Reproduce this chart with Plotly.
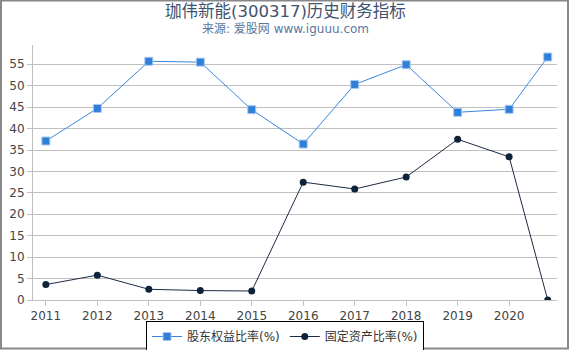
import plotly.graph_objects as go

years = [2011, 2012, 2013, 2014, 2015, 2016, 2017, 2018, 2019, 2020, 2020.75]
tick_vals = [2011, 2012, 2013, 2014, 2015, 2016, 2017, 2018, 2019, 2020]
tick_text = ["2011", "2012", "2013", "2014", "2015", "2016", "2017", "2018", "2019", "2020"]
equity_ratio = [37.1, 44.7, 55.7, 55.5, 44.4, 36.4, 50.3, 54.9, 43.8, 44.5, 56.7]
fixed_asset_ratio = [3.6, 5.8, 2.5, 2.2, 2.1, 27.5, 25.9, 28.7, 37.5, 33.4, 0.0]

W, H = 570, 350
ML, MR, MT, MB = 33, 13, 45, 50
PW, PH = W - ML - MR, H - MT - MB

def px(x):
    return (x - ML) / PW

def py(y):
    return (H - MB - y) / PH

fig = go.Figure()
fig.add_trace(go.Scatter(
    x=years, y=equity_ratio, name="股东权益比率(%)", mode="lines+markers",
    line=dict(color="#3a86dc", width=1),
    marker=dict(symbol="square", size=8, color="#2f7ed8", line=dict(color="#a9c9f0", width=1)),
))
fig.add_trace(go.Scatter(
    x=years, y=fixed_asset_ratio, name="固定资产比率(%)", mode="lines+markers",
    line=dict(color="#1c2b45", width=1),
    marker=dict(symbol="circle", size=7, color="#0d233a"),
))

fig.update_layout(
    width=W, height=H,
    margin=dict(l=ML, r=MR, t=MT, b=MB, autoexpand=False),
    paper_bgcolor="white", plot_bgcolor="white",
    font=dict(family="DejaVu Sans, Noto Sans CJK SC", size=12, color="#444"),
    showlegend=True,
    legend=dict(orientation="h", x=px(285), xanchor="center", y=py(321), yanchor="top",
                bordercolor="#000", borderwidth=1, font=dict(size=12, color="#333",
                family="DejaVu Sans, Noto Sans CJK SC"), tracegroupgap=0,
                itemwidth=30),
    xaxis=dict(range=[2010.75, 2020.93], tickmode="array", tickvals=tick_vals, ticktext=tick_text,
               showgrid=False, showline=True, linecolor="#c0c0c0", linewidth=1,
               ticks="outside", ticklen=5, tickcolor="#c0c0c0", zeroline=False,
               tickfont=dict(size=12, color="#444")),
    yaxis=dict(range=[0, 59.5], tickmode="array", tickvals=list(range(0, 60, 5)),
               showgrid=True, gridcolor="#c0c0c0", gridwidth=1, showline=True, linecolor="#c0c0c0",
               ticks="outside", ticklen=5, tickcolor="#c0c0c0", zeroline=False,
               tickfont=dict(size=12, color="#444")),
)

fig.add_annotation(text="珈伟新能(300317)历史财务指标", xref="paper", yref="paper",
                   x=px(285), y=py(11), xanchor="center", yanchor="middle", showarrow=False,
                   font=dict(family="DejaVu Sans, Noto Sans CJK SC", size=16.5, color="#3e5270"))
fig.add_annotation(text="来源: 爱股网 www.iguuu.com", xref="paper", yref="paper",
                   x=px(285), y=py(28.5), xanchor="center", yanchor="middle", showarrow=False,
                   font=dict(family="DejaVu Sans, Noto Sans CJK SC", size=12, color="#5a77a0"))

# outer frame
fig.add_shape(type="rect", xref="paper", yref="paper",
              x0=px(1), x1=px(568), y0=py(348.5), y1=py(0.5),
              line=dict(color="#888", width=2), layer="below")

fig.write_html("out.html")
